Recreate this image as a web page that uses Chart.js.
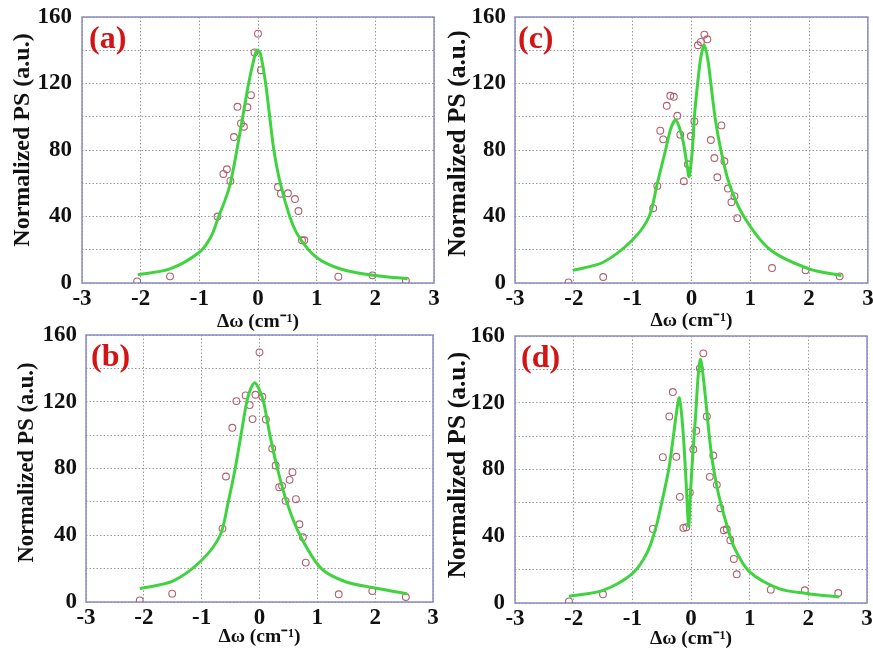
<!DOCTYPE html>
<html>
<head>
<meta charset="utf-8">
<script src="https://cdn.jsdelivr.net/npm/chart.js@4/dist/chart.umd.min.js"></script>
<style>
    body { margin: 0; background: #fff; }
    #wrap { position: relative; width: 873px; height: 655px; overflow: hidden; background: #fff; }
    #wrap canvas { position: absolute; }
</style>
</head>
<body>
<div id="wrap">
    <canvas id="panel-a" width="440" height="340" style="left:0;top:0"></canvas>
    <canvas id="panel-c" width="437" height="340" style="left:436px;top:0"></canvas>
    <canvas id="panel-b" width="440" height="335" style="left:0;top:320px"></canvas>
    <canvas id="panel-d" width="437" height="335" style="left:436px;top:320px"></canvas>
</div>
<script>
// axis ticks shared by all four panels
const xTickLabels = [-3, -2, -1, 0, 1, 2, 3];
const yTickLabels = [0, 40, 80, 120, 160];
const panelLabels = ["(a)", "(b)", "(c)", "(d)"];

// (a) measured power spectrum + fit
const aMeasX = [-2.06, -1.50, -0.69, -0.59, -0.53, -0.47, -0.41, -0.35, -0.29, -0.24, -0.18, -0.12, -0.06, 0.00, 0.05, 0.34, 0.39, 0.51, 0.63, 0.69, 0.75, 0.79, 1.37, 1.95, 2.52];
const aMeasY = [1, 4, 40, 65.6, 68.4, 61.4, 87.8, 106, 96, 94, 105.7, 113, 138.7, 150, 128, 57.7, 53.7, 54, 50.5, 43.3, 25.7, 25.7, 3.8, 4.6, 1.4];
const aFitX = [-2.05, -1.5, -1.0, -0.8, -0.67, -0.56, -0.47, -0.36, -0.26, -0.16, -0.08, -0.02, 0.04, 0.13, 0.2, 0.27, 0.38, 0.54, 0.66, 0.86, 1.1, 1.5, 2.0, 2.55];
const aFitY = [5, 8.5, 18.5, 28, 40, 50, 60, 80, 100, 120, 133, 140, 138, 120, 100, 80, 60, 40, 30, 20, 13, 7.5, 4.5, 2.5];

// (b)
const bMeasX = [-2.07, -1.51, -0.64, -0.58, -0.47, -0.40, -0.24, -0.17, -0.12, -0.07, 0.00, 0.05, 0.11, 0.22, 0.28, 0.34, 0.39, 0.45, 0.52, 0.57, 0.63, 0.69, 0.75, 0.80, 1.37, 1.95, 2.53];
const bMeasY = [1, 5, 44, 75.2, 104.4, 120.4, 123.8, 118, 109.6, 124.2, 149.6, 123, 109.4, 92, 81.8, 68.8, 69.6, 60.6, 73.2, 77.8, 61.6, 46.6, 38.8, 23.6, 4.6, 6.6, 3];
const bFitX = [-2.07, -1.5, -1.0, -0.68, -0.54, -0.42, -0.32, -0.22, -0.15, -0.08, 0, 0.07, 0.18, 0.31, 0.47, 0.7, 1.07, 1.5, 2.0, 2.55];
const bFitY = [8, 12.5, 25, 40, 60, 80, 100, 120, 128, 131.4, 127, 120, 100, 80, 60, 40, 20, 12, 8.4, 5];

// (c)
const cMeasX = [-2.09, -1.50, -0.65, -0.58, -0.53, -0.48, -0.42, -0.36, -0.30, -0.24, -0.19, -0.13, -0.06, -0.01, 0.05, 0.11, 0.16, 0.22, 0.27, 0.33, 0.39, 0.44, 0.51, 0.56, 0.62, 0.68, 0.73, 0.78, 1.37, 1.94, 2.52];
const cMeasY = [0.4, 3.6, 45, 58.4, 91.6, 86.4, 106.6, 112.6, 112, 100.6, 89.2, 61.2, 71.4, 88.4, 97.2, 143, 145, 149.4, 146.6, 86, 75.2, 63.6, 94.8, 73.2, 56.8, 48.6, 52.2, 39, 9, 7.6, 4];
const cFitX = [-2.02, -1.5, -1.0, -0.72, -0.58, -0.44, -0.35, -0.27, -0.2, -0.14, -0.08, -0.04, 0.015, 0.05, 0.105, 0.16, 0.22, 0.28, 0.33, 0.40, 0.50, 0.64, 0.89, 1.34, 2.0, 2.55];
const cFitY = [7.6, 12.5, 26, 40, 60, 80, 93, 98, 93, 85, 72, 64, 80, 100, 120, 136, 143, 134, 120, 100, 80, 60, 40, 20, 8.5, 4.4];

// (d)
const dMeasX = [-2.08, -1.50, -0.65, -0.48, -0.37, -0.31, -0.25, -0.19, -0.13, -0.08, -0.02, 0.04, 0.09, 0.15, 0.21, 0.27, 0.32, 0.38, 0.44, 0.50, 0.56, 0.61, 0.67, 0.73, 0.78, 1.36, 1.94, 2.51];
const dMeasY = [1, 5.2, 44.4, 87.4, 111.8, 126.4, 87.6, 63.6, 45, 45.4, 66.2, 92, 103.2, 140.6, 149.6, 111.8, 75.6, 88.4, 70.8, 56.8, 43.6, 44.2, 37.6, 26.4, 17.2, 8, 7.6, 6];
const dFitX = [-2.08, -1.5, -1, -0.75, -0.6, -0.5, -0.38, -0.3, -0.24, -0.2, -0.16, -0.12, -0.08, -0.04, -0.01, 0.03, 0.08, 0.12, 0.16, 0.2, 0.25, 0.3, 0.36, 0.44, 0.52, 0.6, 0.74, 1, 1.5, 2, 2.53];
const dFitY = [4, 7.6, 17.6, 30, 45, 60, 80, 100, 116, 123, 113, 95, 70, 46, 65, 89, 113, 135, 146, 138, 122, 104, 86, 70, 58, 48, 33, 18.6, 8.6, 5.6, 3.6];

const SERIF = '"Liberation Serif", "Times New Roman", serif';

function toPoints(xs, ys) {
    return xs.map((x, i) => ({ x: x, y: ys[i] }));
}

// frame around the plot area, the rotated y title and the red panel letter
const framePlugin = {
    id: "frame",
    beforeDatasetsDraw(chart) {
        const { ctx, chartArea: a } = chart;
        ctx.save();
        ctx.strokeStyle = "#8a8ac6";
        ctx.lineWidth = 1.5;
        ctx.strokeRect(a.left, a.top, a.right - a.left, a.bottom - a.top);
        ctx.restore();
    },
    afterDraw(chart, args, opts) {
        const { ctx, chartArea: a } = chart;
        ctx.save();
        ctx.translate(opts.yTitleX, (a.top + a.bottom) / 2 + opts.yTitleShift);
        ctx.rotate(-Math.PI / 2);
        ctx.font = "bold " + opts.yTitleSize + "px " + SERIF;
        ctx.fillStyle = "#111";
        ctx.textAlign = "center";
        ctx.textBaseline = "middle";
        ctx.fillText("Normalized PS (a.u.)", 0, 0);
        ctx.restore();

        ctx.save();
        ctx.font = "bold 32px " + SERIF;
        ctx.fillStyle = "#d41414";
        ctx.textAlign = "left";
        ctx.textBaseline = "middle";
        ctx.fillText(opts.text, opts.x, opts.y);
        ctx.restore();
    }
};

function makePanel(id, label, measX, measY, fitX, fitY, box) {
    const canvas = document.getElementById(id);
    return new Chart(canvas, {
        type: "scatter",
        data: {
            datasets: [{
                data: toPoints(fitX, fitY),
                showLine: true,
                borderColor: "#3fd43f",
                borderWidth: 3,
                pointRadius: 0,
                tension: 0.3
            }, {
                data: toPoints(measX, measY),
                showLine: false,
                pointStyle: "circle",
                pointRadius: 3.4,
                pointBorderWidth: 1.1,
                pointBorderColor: "#b0606e",
                pointBackgroundColor: "rgba(0,0,0,0)"
            }]
        },
        options: {
            responsive: false,
            animation: false,
            layout: { padding: { top: box.top, right: box.right, left: 0, bottom: 0 } },
            plugins: {
                legend: { display: false },
                tooltip: { enabled: false },
                frame: {
                    text: label, x: box.labelX, y: box.labelY,
                    yTitleX: box.yTitleX, yTitleShift: box.yTitleShift, yTitleSize: box.yTitleSize
                }
            },
            scales: {
                x: {
                    type: "linear",
                    min: -3,
                    max: 3,
                    afterFit(scale) {
                        scale.height = box.xHeight;
                        scale.paddingLeft = 0;
                        scale.paddingRight = 0;
                    },
                    afterBuildTicks(scale) {
                        scale.ticks = xTickLabels.map(v => ({ value: v }));
                    },
                    ticks: {
                        autoSkip: false,
                        maxRotation: 0,
                        padding: 2,
                        color: "#111",
                        font: { family: SERIF, size: 23, weight: "bold" },
                        callback: v => String(v)
                    },
                    grid: { color: "#9a9a9a", lineWidth: 1, drawTicks: false },
                    border: { display: false, dash: [1.5, 2] },
                    title: {
                        display: true,
                        text: "Δω (cm⁻¹)",
                        color: "#111",
                        font: { family: SERIF, size: 19.5, weight: "bold" },
                        padding: { top: 0, bottom: box.xTitlePad }
                    }
                },
                y: {
                    type: "linear",
                    min: 0,
                    max: 160,
                    afterFit(scale) {
                        scale.width = box.yWidth;
                        scale.paddingTop = 0;
                        scale.paddingBottom = 0;
                    },
                    ticks: {
                        stepSize: 20,
                        autoSkip: false,
                        padding: box.yTickPad,
                        color: "#111",
                        font: { family: SERIF, size: 23, weight: "bold" },
                        callback: v => yTickLabels.includes(v) ? String(v) : ""
                    },
                    grid: { color: "#9a9a9a", lineWidth: 1, drawTicks: false },
                    border: { display: false, dash: [1.5, 2] }
                }
            }
        },
        plugins: [framePlugin]
    });
}

makePanel("panel-a", panelLabels[0], aMeasX, aMeasY, aFitX, aFitY,
    { top: 17, right: 6, yWidth: 82, xHeight: 57, yTickPad: 10, yTitleSize: 24, yTitleX: 23, yTitleShift: -10, xTitlePad: 6, labelX: 89, labelY: 40 });
makePanel("panel-c", panelLabels[2], cMeasX, cMeasY, cFitX, cFitY,
    { top: 17, right: 4, yWidth: 79, xHeight: 57, yTickPad: 9, yTitleSize: 25.5, yTitleX: 22, yTitleShift: -6.5, xTitlePad: 7, labelX: 82, labelY: 40 });
makePanel("panel-b", panelLabels[1], bMeasX, bMeasY, bFitX, bFitY,
    { top: 15, right: 7, yWidth: 86, xHeight: 53, yTickPad: 9, yTitleSize: 22.5, yTitleX: 27.5, yTitleShift: -6, xTitlePad: 6, labelX: 91, labelY: 38 });
makePanel("panel-d", panelLabels[3], dMeasX, dMeasY, dFitX, dFitY,
    { top: 16, right: 6, yWidth: 79, xHeight: 52, yTickPad: 10, yTitleSize: 25.5, yTitleX: 22, yTitleShift: -4.5, xTitlePad: 4, labelX: 85, labelY: 39 });
</script>
</body>
</html>
